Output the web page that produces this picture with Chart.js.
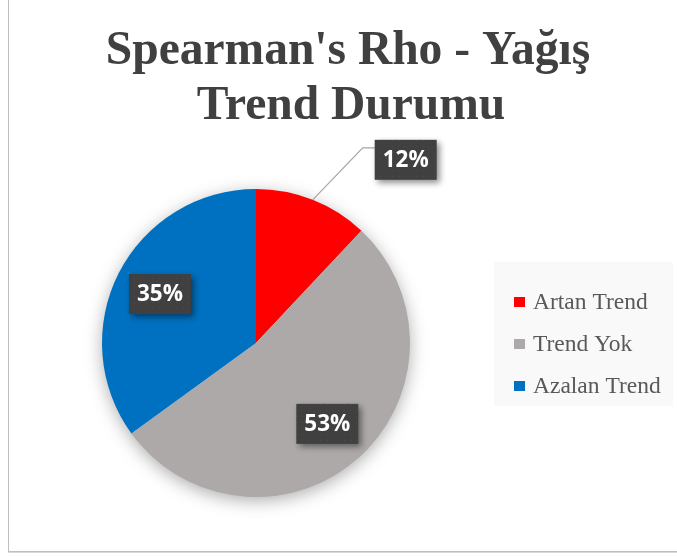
<!DOCTYPE html>
<html>
<head>
<meta charset="utf-8">
<script src="https://cdn.jsdelivr.net/npm/chart.js@4/dist/chart.umd.min.js"></script>
<style>
  html, body { margin:0; padding:0; background:#fff; }
  #wrap { position:relative; width:677px; height:556px; overflow:hidden; }
  #frame { position:absolute; left:8px; top:-2px; width:700px; height:552px; border:1px solid #bfbfbf; box-shadow:0 1px 0 #d9d9d9; }
  canvas { position:absolute; left:0; top:0; }
</style>
</head>
<body>
<div id="wrap">
  <div id="frame"></div>
  <canvas id="pie" width="677" height="556"></canvas>
</div>
<script>
// ── VERİ ────────────────────────────────────────────────────────────
const TITLE  = ["Spearman's Rho - Yağış", 'Trend Durumu'];
const LABELS = ['Artan Trend', 'Trend Yok', 'Azalan Trend'];
const VALUES = [12, 53, 35];
const COLORS = ['#FF0000', '#ADA9A9', '#0070C0'];

const C = {
  title:  '#404040',
  legend: '#595959',
  box:    '#404040',
  leader: '#A6A6A6',
};

// koyu etiket kutusu için noktalı desen
function makePattern(ctx) {
  const p = document.createElement('canvas');
  p.width = 6; p.height = 6;
  const g = p.getContext('2d');
  g.fillStyle = C.box; g.fillRect(0, 0, 6, 6);
  g.fillStyle = '#4c4c4c'; g.fillRect(2, 2, 1, 1);
  return ctx.createPattern(p, 'repeat');
}

// başlık, gölge, veri etiketleri ve lejant
const decor = {
  id: 'decor',
  beforeDatasetsDraw(chart) {
    const ctx = chart.ctx;
    const arc = chart.getDatasetMeta(0).data[0];
    if (!arc) return;
    ctx.save();
    ctx.shadowColor = 'rgba(0,0,0,0.35)';
    ctx.shadowBlur = 18;
    ctx.shadowOffsetY = 4;
    ctx.fillStyle = '#fff';
    ctx.beginPath();
    ctx.arc(arc.x, arc.y, arc.outerRadius - 1, 0, Math.PI * 2);
    ctx.fill();
    ctx.restore();
  },
  afterDraw(chart) {
    const ctx = chart.ctx;
    const total = VALUES.reduce((a, b) => a + b, 0);

    // başlık
    ctx.save();
    ctx.fillStyle = C.title;
    ctx.font = 'bold 47.5px "Liberation Serif", "Times New Roman", serif';
    ctx.textAlign = 'center';
    ctx.textBaseline = 'alphabetic';
    ctx.fillText(TITLE[0], 348, 64);
    ctx.fillText(TITLE[1], 351, 119);
    ctx.restore();

    // lejant
    ctx.save();
    ctx.fillStyle = '#F9F9F9';
    ctx.fillRect(494, 262, 179, 144);
    ctx.font = '23.5px "Liberation Serif", "Times New Roman", serif';
    ctx.textBaseline = 'middle';
    LABELS.forEach((l, i) => {
      const y = 302 + i * 42;
      ctx.fillStyle = COLORS[i];
      ctx.fillRect(514, y - 5, 11, 10);
      ctx.fillStyle = C.legend;
      ctx.fillText(l, 533, y + 1);
    });
    ctx.restore();

    // veri etiketleri
    const pat = makePattern(ctx);
    chart.getDatasetMeta(0).data.forEach((a, i) => {
      const mid = (a.startAngle + a.endAngle) / 2;
      const r = a.outerRadius;
      const pct = Math.round(VALUES[i] / total * 100) + '%';
      let cx, cy;
      const w = 62, h = 40;
      if (VALUES[i] / total < 0.2) {
        // dışarıda, kılavuz çizgili
        const ex = a.x + Math.cos(mid) * r, ey = a.y + Math.sin(mid) * r;
        cx = ex + 93; cy = ey - 40;
        const bx = cx - w / 2;
        ctx.save();
        ctx.strokeStyle = C.leader; ctx.lineWidth = 1.2;
        ctx.beginPath();
        ctx.moveTo(ex, ey);
        ctx.lineTo(bx - 12, cy - 12);
        ctx.lineTo(bx, cy - 12);
        ctx.stroke();
        ctx.restore();
      } else {
        cx = a.x + Math.cos(mid) * r * 0.70;
        cy = a.y + Math.sin(mid) * r * 0.70;
      }
      ctx.save();
      ctx.shadowColor = 'rgba(0,0,0,0.45)';
      ctx.shadowBlur = 6;
      ctx.shadowOffsetX = 3; ctx.shadowOffsetY = 3;
      ctx.fillStyle = pat;
      ctx.fillRect(cx - w / 2, cy - h / 2, w, h);
      ctx.restore();
      ctx.save();
      ctx.fillStyle = '#fff';
      ctx.font = 'bold 22.5px "Open Sans", sans-serif';
      ctx.textAlign = 'center';
      ctx.textBaseline = 'middle';
      ctx.fillText(pct, cx, cy + 1);
      ctx.restore();
    });
  },
};

new Chart(document.getElementById('pie'), {
  type: 'pie',
  data: {
    labels: LABELS,
    datasets: [{ data: VALUES, backgroundColor: COLORS, borderWidth: 0, hoverOffset: 0 }],
  },
  options: {
    responsive: false, animation: false,
    layout: { padding: { left: 102, top: 189, right: 267, bottom: 59 } },
    plugins: {
      legend: { display: false },
      tooltip: { enabled: false },
      title: { display: false },
    },
  },
  plugins: [decor],
});
</script>
</body>
</html>
